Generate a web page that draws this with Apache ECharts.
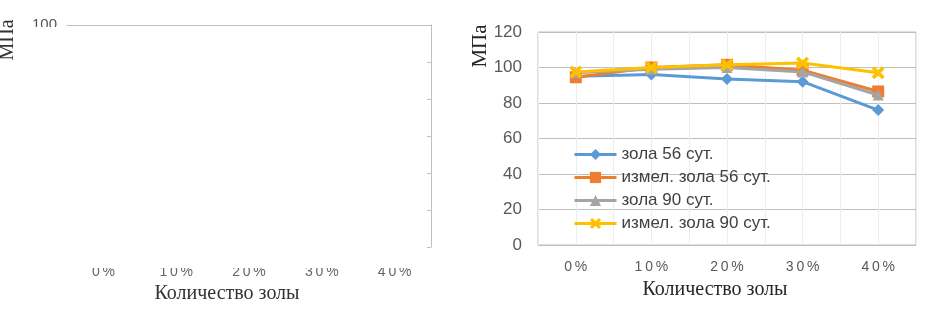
<!DOCTYPE html>
<html>
<head>
<meta charset="utf-8">
<script src="https://cdn.jsdelivr.net/npm/echarts@6/dist/echarts.min.js"></script>
<style>
html,body{margin:0;padding:0;background:#fff;}
#chart{width:931px;height:322px;}
</style>
</head>
<body>
<div id="chart"></div>
<script>
var categories = ['0%', '10%', '20%', '30%', '40%'];
var seriesNames = ['зола 56 сут.', 'измел. зола 56 сут.', 'зола 90 сут.', 'измел. зола 90 сут.'];
var ash56 = [95, 96, 93.5, 92, 76];
var groundAsh56 = [94.5, 100, 101.5, 98.5, 86.5];
var ash90 = [97, 99, 100, 97.5, 84.5];
var groundAsh90 = [97.5, 100, 101.5, 102.5, 97];
var yTicksRight = { min: 0, max: 120, interval: 20 };
var yLeftTop = 100;
var yAxisTitle = 'МПа';
var xAxisTitle = 'Количество золы';

var spaced = function (v) { return v.split('').join('\u2009'); };
var crossPath = 'path://M0,2 L2,0 L5,3 L8,0 L10,2 L7,5 L10,8 L8,10 L5,7 L2,10 L0,8 L3,5 Z';
var colors = ['#5B9BD5', '#ED7D31', '#A5A5A5', '#FFC000'];
var symbols = ['diamond', 'rect', 'triangle', crossPath];
var sizes = [12, 12, 11, 13];
var values = [ash56, groundAsh56, ash90, groundAsh90];

var chart = echarts.init(document.getElementById('chart'), null, { renderer: 'canvas' });

var option = {
  animation: false,
  backgroundColor: '#fff',
  grid: [
    { left: 67, top: 25, width: 364, height: 222, show: false },
    { left: 538, top: 32, width: 378, height: 213, show: true, borderColor: '#BFBFBF', borderWidth: 1 }
  ],
  xAxis: [
    { gridIndex: 0, type: 'category', data: categories, position: 'bottom',
      axisLine: { show: false, onZero: false }, axisTick: { show: false },
      axisLabel: { margin: 18, fontSize: 14, color: '#666', fontFamily: 'Liberation Sans', formatter: spaced },
      name: xAxisTitle, nameLocation: 'middle', nameGap: 34,
      nameTextStyle: { fontFamily: 'Liberation Serif', fontSize: 20, color: '#333', padding: [0, 44, 0, 0] } },
    { gridIndex: 0, type: 'category', data: categories, position: 'top',
      axisLine: { show: true, onZero: false, lineStyle: { color: '#BFBFBF', width: 1 } },
      axisTick: { show: false }, axisLabel: { show: false } },
    { gridIndex: 1, type: 'category', data: categories, boundaryGap: true,
      axisLine: { show: false, onZero: false }, axisTick: { show: false },
      axisLabel: { margin: 15, fontSize: 14, color: '#595959', fontFamily: 'Liberation Sans', formatter: spaced },
      name: xAxisTitle, nameLocation: 'middle', nameGap: 35,
      nameTextStyle: { fontFamily: 'Liberation Serif', fontSize: 20, color: '#262626', padding: [0, 24, 0, 0] } },
    { gridIndex: 1, type: 'category', data: ['', '', '', '', '', '', '', '', '', ''], boundaryGap: true,
      axisLine: { show: false, onZero: false }, axisTick: { show: false }, axisLabel: { show: false },
      splitLine: { show: true, interval: 0, lineStyle: { color: '#EDEDED', width: 1 } } }
  ],
  yAxis: [
    { gridIndex: 0, type: 'value', min: 0, max: 6, interval: 1, position: 'right',
      axisLine: { show: true, lineStyle: { color: '#BFBFBF' } },
      axisTick: { show: true, inside: true, length: 4, lineStyle: { color: '#BFBFBF' } },
      axisLabel: { show: false }, splitLine: { show: false } },
    { gridIndex: 0, type: 'value', min: 0, max: yLeftTop, interval: yLeftTop, position: 'left',
      axisLine: { show: false }, axisTick: { show: false }, splitLine: { show: false },
      axisLabel: { margin: 10, fontSize: 15, color: '#555', fontFamily: 'Liberation Sans',
        formatter: function (v) { return v === yLeftTop ? String(v) : ''; } } },
    { gridIndex: 1, type: 'value', min: yTicksRight.min, max: yTicksRight.max, interval: yTicksRight.interval,
      axisLine: { show: false }, axisTick: { show: false },
      axisLabel: { margin: 16, fontSize: 17, color: '#595959', fontFamily: 'Liberation Sans' },
      splitLine: { show: true, lineStyle: { color: '#BFBFBF', width: 1 } } }
  ],
  legend: {
    left: 573, top: 146, padding: 0, orient: 'vertical', itemWidth: 42, itemHeight: 14, itemGap: 6,
    lineStyle: { width: 3 },
    textStyle: { fontFamily: 'Liberation Sans', fontSize: 17, color: '#404040' },
    data: seriesNames.map(function (n, i) {
      return { name: n, lineStyle: { width: 3, color: colors[i] } };
    })
  },
  series: seriesNames.map(function (n, i) {
    return {
      name: n, type: 'line', xAxisIndex: 2, yAxisIndex: 2, data: values[i],
      symbol: symbols[i], symbolSize: sizes[i], showSymbol: true,
      lineStyle: { color: colors[i], width: 3 }, itemStyle: { color: colors[i] }, z: 2 + i
    };
  }),
  graphic: [
    { type: 'text', x: 8, y: 40, rotation: Math.PI / 2, z: 50,
      style: { text: yAxisTitle, font: '20px "Liberation Serif"', fill: '#333', textAlign: 'center', textVerticalAlign: 'middle' } },
    { type: 'text', x: 480, y: 46, rotation: Math.PI / 2, z: 50,
      style: { text: yAxisTitle, font: '21px "Liberation Serif"', fill: '#262626', textAlign: 'center', textVerticalAlign: 'middle' } },
    { type: 'rect', shape: { x: 80, y: 252, width: 340, height: 16 }, style: { fill: '#fff' }, z: 100 },
    { type: 'rect', shape: { x: 25, y: 27, width: 38, height: 10 }, style: { fill: '#fff' }, z: 100 }
  ]
};
chart.setOption(option);
</script>
</body>
</html>
